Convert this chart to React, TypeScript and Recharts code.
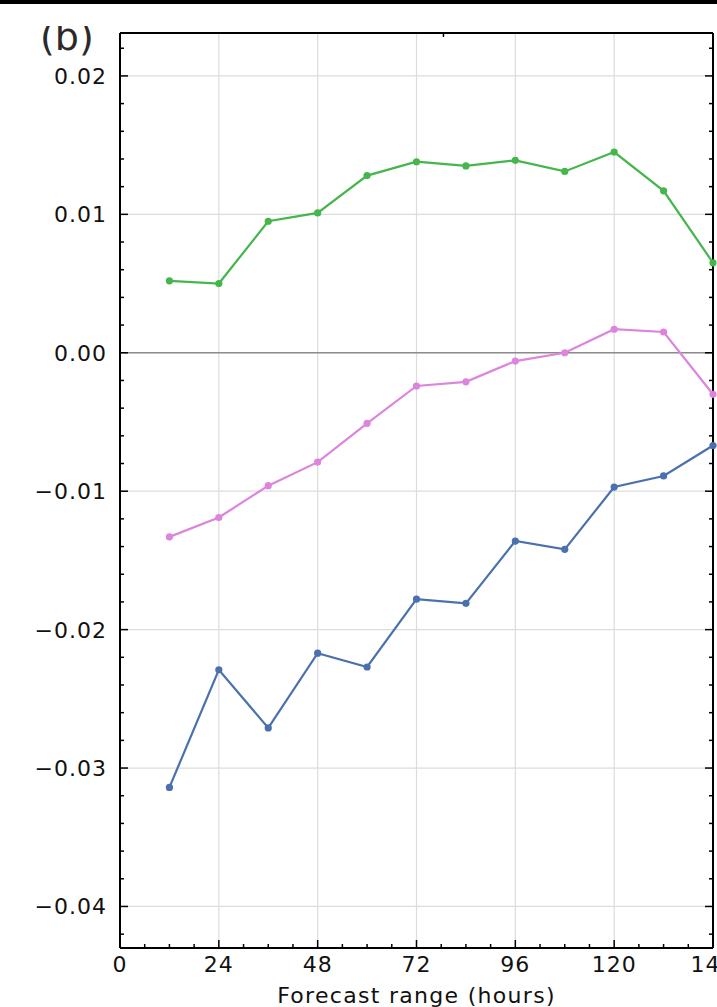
import React from "react"
import {
  LineChart,
  Line,
  XAxis,
  YAxis,
  CartesianGrid,
  ReferenceLine,
} from "recharts"

const hours = [12, 24, 36, 48, 60, 72, 84, 96, 108, 120, 132, 144]
const greenVals = [0.0052, 0.005, 0.0095, 0.0101, 0.0128, 0.0138, 0.0135, 0.0139, 0.0131, 0.0145, 0.0117, 0.0065]
const pinkVals = [-0.0133, -0.0119, -0.0096, -0.0079, -0.0051, -0.0024, -0.0021, -0.0006, 0.0, 0.0017, 0.0015, -0.003]
const blueVals = [-0.0314, -0.0229, -0.0271, -0.0217, -0.0227, -0.0178, -0.0181, -0.0136, -0.0142, -0.0097, -0.0089, -0.0067]

const xMajor = [0, 24, 48, 72, 96, 120, 144]
const xTicks = [0, 6, 12, 18, 24, 30, 36, 42, 48, 54, 60, 66, 72, 78, 84, 90, 96, 102, 108, 114, 120, 126, 132, 138, 144]
const yMajor = [-0.04, -0.03, -0.02, -0.01, 0, 0.01, 0.02]
const yTicks = [
  -0.042, -0.04, -0.038, -0.036, -0.034, -0.032, -0.03, -0.028, -0.026, -0.024, -0.022, -0.02,
  -0.018, -0.016, -0.014, -0.012, -0.01, -0.008, -0.006, -0.004, -0.002, 0, 0.002, 0.004,
  0.006, 0.008, 0.01, 0.012, 0.014, 0.016, 0.018, 0.02, 0.022,
]
const yLabels: Record<string, string> = {
  "-0.04": "\u22120.04",
  "-0.03": "\u22120.03",
  "-0.02": "\u22120.02",
  "-0.01": "\u22120.01",
  "0": "0.00",
  "0.01": "0.01",
  "0.02": "0.02",
}

const data = hours.map((h, i) => ({
  h,
  green: greenVals[i],
  pink: pinkVals[i],
  blue: blueVals[i],
}))

const FONT = "DejaVu Sans, sans-serif"
const isMajorY = (v: number) => yMajor.some((m) => Math.abs(m - v) < 1e-9)

const BottomTick = (props: any) => {
  const { x, y, payload } = props
  const major = xMajor.includes(payload.value)
  return (
    <g>
      <line x1={x} x2={x} y1={y} y2={y - (major ? 8 : 4)} stroke="#000" strokeWidth={1.5} />
      {major && (
        <text x={x} y={y + 24} textAnchor="middle" fontSize={22} letterSpacing={1} fontFamily={FONT} fill="#111">
          {payload.value}
        </text>
      )}
    </g>
  )
}

const TopTick = (props: any) => {
  const { x, y, payload } = props
  const major = xMajor.includes(payload.value)
  return <line x1={x} x2={x} y1={y} y2={y + (major ? 8 : 4)} stroke="#000" strokeWidth={1.5} />
}

const LeftTick = (props: any) => {
  const { x, y, payload } = props
  const major = isMajorY(payload.value)
  const key = String(Math.round(payload.value * 100) / 100)
  return (
    <g>
      <line x1={x} x2={x + (major ? 8 : 4)} y1={y} y2={y} stroke="#000" strokeWidth={1.5} />
      {major && (
        <text x={x - 13} y={y + 8} textAnchor="end" fontSize={22} letterSpacing={1} fontFamily={FONT} fill="#111">
          {yLabels[key]}
        </text>
      )}
    </g>
  )
}

const RightTick = (props: any) => {
  const { x, y, payload } = props
  const major = isMajorY(payload.value)
  return <line x1={x} x2={x - (major ? 8 : 4)} y1={y} y2={y} stroke="#000" strokeWidth={1.5} />
}

const XLabel = (props: any) => {
  const { viewBox } = props
  return (
    <text
      x={viewBox.x + viewBox.width / 2}
      y={viewBox.y + viewBox.height - 4}
      textAnchor="middle"
      fontSize={22}
      letterSpacing={1.3}
      fontFamily={FONT}
      fill="#111"
    >
      Forecast range (hours)
    </text>
  )
}

const axisLine = { stroke: "#000", strokeWidth: 2 }

export default function App() {
  return (
    <div
      style={{
        position: "fixed",
        left: 0,
        top: 0,
        width: 717,
        height: 1007,
        overflow: "hidden",
        background: "#fff",
      }}
    >
      <div style={{ position: "absolute", left: 0, top: 0, width: 717, height: 4, background: "#000" }} />
      <svg style={{ position: "absolute", left: 30, top: 26 }} width={80} height={40}>
        <text x={10} y={24} fontFamily={FONT} fontSize={38} fill="#2a2a2a">
          (b)
        </text>
      </svg>
      <LineChart
        width={760}
        height={1007}
        data={data}
        margin={{ top: 23, right: 27, bottom: 0, left: 0 }}
      >
        <CartesianGrid
          stroke="#dcdcdc"
          strokeWidth={1.2}
          horizontalValues={yMajor}
          verticalValues={xMajor}
        />
        <ReferenceLine y={0} stroke="#8c8c8c" strokeWidth={1.5} />
        <XAxis
          dataKey="h"
          type="number"
          domain={[0, 144]}
          ticks={xTicks}
          interval={0}
          height={59}
          tickSize={0}
          tickMargin={0}
          tickLine={false}
          axisLine={axisLine}
          tick={<BottomTick />}
          label={<XLabel />}
        />
        <XAxis
          xAxisId="top"
          orientation="top"
          type="number"
          domain={[0, 144]}
          ticks={xTicks}
          interval={0}
          height={10}
          tickSize={0}
          tickMargin={0}
          tickLine={false}
          axisLine={axisLine}
          tick={<TopTick />}
        />
        <YAxis
          type="number"
          domain={[-0.043, 0.0231]}
          ticks={yTicks}
          interval={0}
          width={120}
          tickSize={0}
          tickMargin={0}
          tickLine={false}
          axisLine={axisLine}
          tick={<LeftTick />}
          allowDataOverflow
        />
        <YAxis
          yAxisId="right"
          orientation="right"
          type="number"
          domain={[-0.043, 0.0231]}
          ticks={yTicks}
          interval={0}
          width={20}
          tickSize={0}
          tickMargin={0}
          tickLine={false}
          axisLine={axisLine}
          tick={<RightTick />}
          allowDataOverflow
        />
        <Line
          dataKey="green"
          stroke="#44b64c"
          strokeWidth={2.2}
          dot={{ r: 3.6, fill: "#44b64c", stroke: "#44b64c", strokeWidth: 0 }}
          isAnimationActive={false}
        />
        <Line
          dataKey="pink"
          stroke="#dd84dd"
          strokeWidth={2.2}
          dot={{ r: 3.6, fill: "#dd84dd", stroke: "#dd84dd", strokeWidth: 0 }}
          isAnimationActive={false}
        />
        <Line
          dataKey="blue"
          stroke="#4a70ae"
          strokeWidth={2.2}
          dot={{ r: 3.6, fill: "#4a70ae", stroke: "#4a70ae", strokeWidth: 0 }}
          isAnimationActive={false}
        />
      </LineChart>
    </div>
  )
}
